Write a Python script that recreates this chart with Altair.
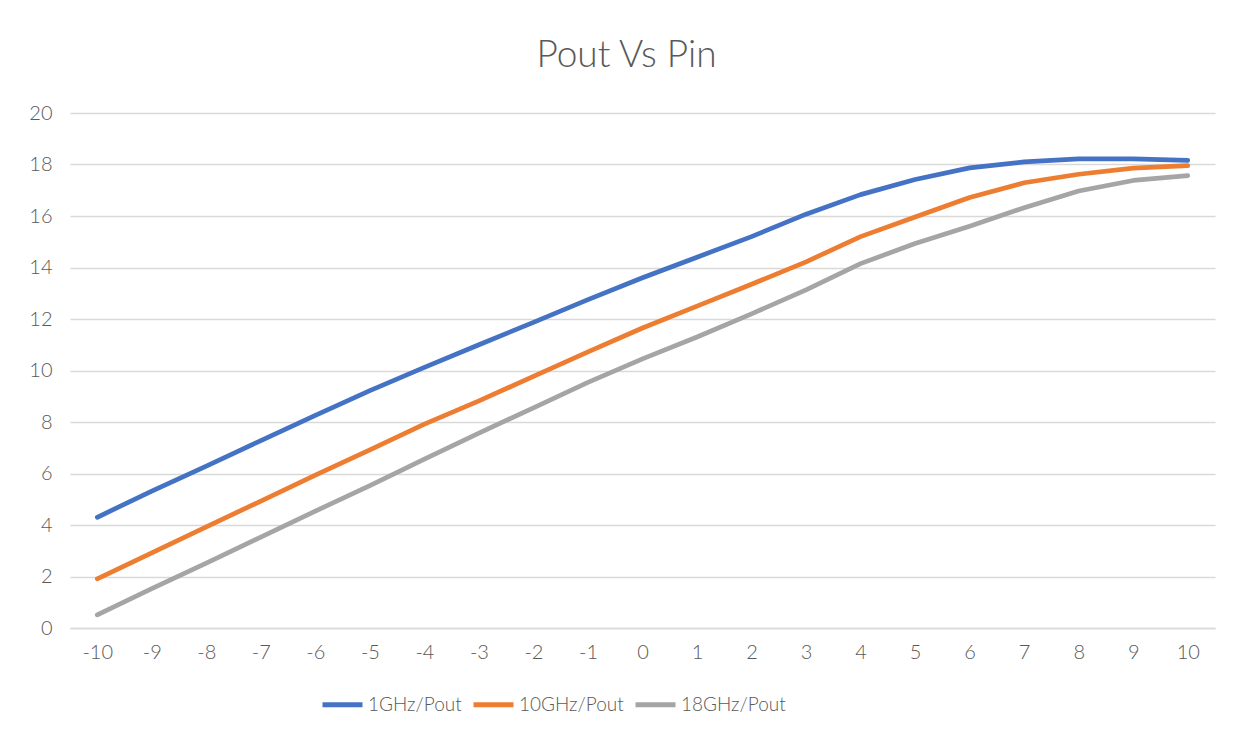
import altair as alt
import pandas as pd

pin = list(range(-10, 11))
series_names = ["1GHz/Pout", "10GHz/Pout", "18GHz/Pout"]
pout_1ghz = [4.30, 5.32, 6.29, 7.28, 8.26, 9.22, 10.12, 11.00, 11.87, 12.75, 13.60,
             14.40, 15.20, 16.07, 16.83, 17.42, 17.87, 18.10, 18.22, 18.22, 18.16]
pout_10ghz = [1.91, 2.92, 3.93, 4.93, 5.94, 6.92, 7.92, 8.82, 9.77, 10.72, 11.65,
              12.50, 13.35, 14.22, 15.20, 15.96, 16.72, 17.29, 17.62, 17.86, 17.96]
pout_18ghz = [0.51, 1.53, 2.52, 3.53, 4.54, 5.53, 6.56, 7.57, 8.55, 9.54, 10.45,
              11.30, 12.20, 13.13, 14.15, 14.93, 15.60, 16.32, 16.97, 17.38, 17.57]
colors = ["#4472C4", "#ED7D31", "#A5A5A5"]

rows = []
for name, vals in zip(series_names, [pout_1ghz, pout_10ghz, pout_18ghz]):
    for p, v in zip(pin, vals):
        rows.append({"Pin": p, "Pout": v, "Series": name})
df = pd.DataFrame(rows)

FONT = "Lato"
TXT = "#595959"

chart = alt.Chart(df).mark_line(strokeWidth=4.7, strokeCap="round", strokeJoin="round").encode(
    x=alt.X("Pin:O", sort=pin,
            scale=alt.Scale(type="point", padding=0.5),
            axis=alt.Axis(title=None, labelAngle=0, ticks=False, domain=True,
                          domainColor="#D9D9D9", domainWidth=1.3, grid=False,
                          labelFontSize=20, labelColor=TXT, labelFont=FONT,
                          labelFontWeight=300, labelPadding=14)),
    y=alt.Y("Pout:Q",
            scale=alt.Scale(domain=[0, 20], nice=False),
            axis=alt.Axis(title=None, values=list(range(0, 21, 2)), ticks=False,
                          domain=False, grid=True, gridColor="#D9D9D9", gridWidth=1.3,
                          labelFontSize=20, labelColor=TXT, labelFont=FONT,
                          labelFontWeight=300, labelPadding=18)),
    color=alt.Color("Series:N", sort=series_names,
                    scale=alt.Scale(domain=series_names, range=colors),
                    legend=alt.Legend(title=None, orient="none", direction="horizontal",
                                      legendX=250, legendY=569,
                                      symbolType="stroke", symbolSize=1600,
                                      symbolStrokeWidth=5, labelFontSize=19,
                                      labelFont=FONT, labelFontWeight=300,
                                      labelColor=TXT, labelOffset=3,
                                      columnPadding=1)),
).properties(
    width=1145,
    height=515,
    title=alt.TitleParams("Pout Vs Pin", fontSize=37, font=FONT, fontWeight=300,
                          color=TXT, anchor="middle", offset=28, dx=-16),
    autosize=alt.AutoSizeParams(type="none"),
    padding={"left": 62, "top": 105, "right": 19, "bottom": 96},
).configure(background="white").configure_view(stroke=None, strokeWidth=0)

chart.save("out.html", embed_options={"renderer": "svg", "actions": False})
